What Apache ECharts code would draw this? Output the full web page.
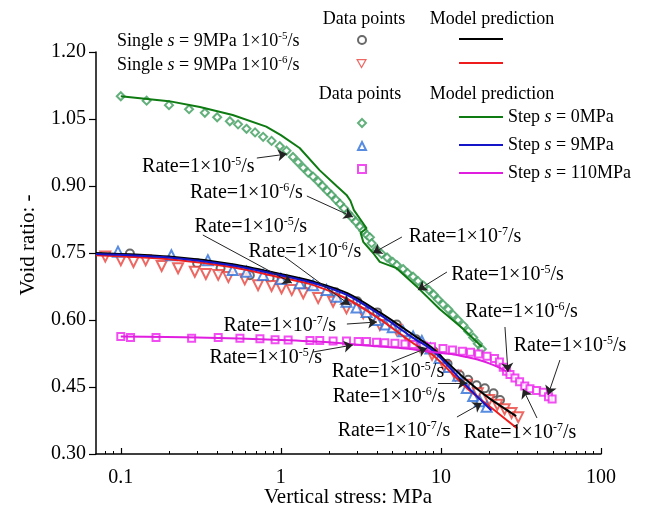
<!DOCTYPE html>
<html>
<head>
<meta charset="utf-8">
<script src="https://cdn.jsdelivr.net/npm/echarts@6/dist/echarts.min.js"></script>
<style>
  html, body { margin: 0; padding: 0; background: #fff; }
  #chart { width: 648px; height: 515px; }
</style>
</head>
<body>
<div id="chart"></div>
<script>
// stress (MPa) vs void ratio
const xMajorTicks = [0.1, 1, 10, 100];
const xMinorTicks = [0.08, 0.09, 0.2, 0.3, 0.4, 0.5, 0.6, 0.7, 0.8, 0.9,
  2, 3, 4, 5, 6, 7, 8, 9, 20, 30, 40, 50, 60, 70, 80, 90];

const singleRate5Points = [[0.114,0.749],[0.30,0.727],[0.42,0.716],[0.64,0.700],[0.85,0.694],[1.01,0.690],
  [1.5,0.678],[2.2,0.662],[3.0,0.642],[4.0,0.617],[5.3,0.590],[7.0,0.557],[9.0,0.530],[11.0,0.502],
  [13.1,0.477],[14.8,0.466],[16.7,0.454],[18.8,0.447],[21.3,0.436],[23.4,0.421]];
const singleRate6Points = [[0.08,0.742],[0.1,0.734],[0.12,0.730],[0.143,0.734],[0.18,0.721],[0.228,0.716],
  [0.29,0.708],[0.34,0.703],[0.406,0.701],[0.47,0.696],[0.595,0.691],[0.72,0.678],[0.875,0.676],[1.01,0.671],
  [1.17,0.667],[1.38,0.660],[1.71,0.649],[2.12,0.641],[2.57,0.626],[3.27,0.615],[4.15,0.589],[5.28,0.578],
  [6.24,0.555],[7.4,0.540],[8.8,0.522],[10.5,0.497],[12.3,0.476],[14.5,0.455],[17,0.436],[20,0.421],
  [22.5,0.410],[25,0.400],[27.6,0.392],[30.4,0.382]];
const step0Points = [[0.1,1.101],[0.145,1.091],[0.2,1.081],[0.267,1.072],[0.335,1.064],[0.40,1.054],[0.48,1.045],
  [0.54,1.038],[0.61,1.028],[0.69,1.020],[0.775,1.010],[0.875,1.001],[0.985,0.989],[1.085,0.979],[1.19,0.965],
  [1.28,0.953],[1.38,0.941],[1.48,0.930],[1.59,0.921],[1.71,0.910],[1.82,0.900],[1.95,0.889],[2.07,0.880],
  [2.21,0.869],[2.34,0.860],[2.48,0.850],[2.63,0.839],[2.77,0.830],[2.94,0.820],[3.12,0.809],[3.27,0.800],
  [3.46,0.790],[3.6,0.785],[3.69,0.772],[3.96,0.758],[4.26,0.748],[4.61,0.740],[5.0,0.730],[5.3,0.723],
  [5.8,0.714],[6.2,0.705],[6.7,0.697],[7.2,0.687],[7.8,0.677],[8.4,0.667],[9.0,0.657],[9.6,0.646],[10.3,0.635],
  [11.1,0.624],[11.9,0.612],[12.8,0.600],[13.8,0.588],[14.8,0.575],[15.9,0.561],[17.0,0.547],[18.0,0.535]];
const step9Points = [[0.096,0.753],[0.207,0.745],[0.35,0.734],[0.50,0.712],[0.61,0.708],[0.775,0.701],[1.0,0.692],
  [1.31,0.682],[1.59,0.678],[1.93,0.667],[2.23,0.652],[2.57,0.641],[2.97,0.628],[3.43,0.618],[3.96,0.600],
  [4.5,0.590],[5.0,0.584],[5.8,0.575],[6.7,0.563],[7.6,0.553],[8.6,0.536],[9.8,0.515],[11.2,0.495],[12.8,0.475],
  [14.5,0.448],[15.9,0.430],[17.5,0.418],[19.3,0.406]];
const step110Points = [[0.1,0.563],[0.115,0.561],[0.166,0.561],[0.277,0.559],[0.406,0.561],[0.555,0.559],
  [0.74,0.558],[0.92,0.556],[1.11,0.555],[1.52,0.554],[1.75,0.554],[2.12,0.553],[2.57,0.553],[3.04,0.552],
  [3.43,0.552],[3.96,0.550],[4.46,0.549],[5.16,0.548],[5.96,0.546],[6.7,0.545],[7.76,0.542],[8.73,0.540],
  [10.3,0.536],[11.8,0.533],[13.6,0.530],[15.3,0.528],[17.2,0.524],[19.4,0.519],[21.6,0.514],[23.2,0.506],
  [24.5,0.494],[25.7,0.485],[27,0.478],[29,0.470],[31,0.462],[33.4,0.452],[36,0.446],[39.6,0.442],[43.6,0.438],
  [47,0.428],[49.5,0.423]];

const singleRate5Model = [[0.07,0.750],[0.2,0.742],[0.5,0.725],[1.0,0.703],[1.6,0.686],[2.6,0.660],[4.15,0.617],
  [6.7,0.567],[9.0,0.535],[10.8,0.507],[14.5,0.465],[20,0.425],[29.5,0.385]];
const singleRate6Model = [[0.07,0.745],[0.2,0.736],[0.5,0.718],[1.0,0.695],[1.6,0.678],[2.6,0.647],[4.15,0.602],
  [6.7,0.548],[9.0,0.520],[14.5,0.448],[23.4,0.388],[30,0.357]];
const step0Model = [[0.1,1.101],[0.2,1.090],[0.312,1.077],[0.5,1.059],[0.81,1.033],[1.0,1.014],[1.31,0.985],
  [1.75,0.935],[2.23,0.900],[2.57,0.880],[2.72,0.867],[2.86,0.846],[3.27,0.816],[3.43,0.805],[3.15,0.795],
  [3.27,0.775],[3.77,0.750],[4.15,0.730],[5.28,0.716],[7.2,0.672],[9.85,0.624],[13.8,0.580],[18.0,0.540]];
const step9Model = [[0.07,0.748],[0.2,0.740],[0.5,0.722],[1.0,0.700],[1.6,0.683],[2.6,0.656],[4.15,0.612],
  [6.7,0.560],[9.0,0.530],[14.5,0.452],[20.6,0.398]];
const step110Model = [[0.1,0.563],[0.3,0.561],[1.0,0.555],[2.0,0.550],[4.0,0.541],[6.0,0.536],[9.0,0.528],
  [12,0.523],[14.5,0.517],[17.5,0.510],[20,0.503],[23,0.494],[25.5,0.485]];

// rate annotations: exponent, label centre, arrow start, arrow tip
const rateExps = ['-5','-6','-7','-5','-6','-5','-7','-5','-6','-7','-5','-5','-6','-7'];
const rateLabelAt = [[0.305,0.9425],[0.609,0.8843],[14.13,0.7858],[26.04,0.7007],[31.85,0.6179],[64.0,0.5418],
  [31.17,0.3470],[0.649,0.8082],[1.413,0.7522],[0.986,0.5866],[0.806,0.5149],[4.665,0.4836],[4.732,0.4276],[5.085,0.3515]];
const rateArrowFrom = [[0.708,0.9626],[1.454,0.8776],[5.705,0.7858],[10.90,0.7074],[25.12,0.5843],[55.4,0.5104],
  [39.81,0.3806],[0.3255,0.7903],[1.059,0.7410],[2.585,0.5910],[1.585,0.5283],[4.941,0.5060],[9.577,0.4589],[12.59,0.3828]];
const rateArrowTo = [[1.090,0.9715],[2.818,0.8306],[3.758,0.7500],[7.18,0.6671],[26.23,0.4836],[46.65,0.4321],
  [32.55,0.4455],[1.171,0.6828],[2.700,0.6336],[3.981,0.5955],[2.818,0.5440],[8.178,0.5373],[14.54,0.4589],[18.04,0.4142]];

const FONT = "'Liberation Serif', 'Times New Roman', serif";
const rich = {
  n: { fontFamily: FONT, fontSize: 18, color: '#000', lineHeight: 20 },
  i: { fontFamily: FONT, fontSize: 18, color: '#000', fontStyle: 'italic', lineHeight: 20 },
  sup: { fontFamily: FONT, fontSize: 11, color: '#000', verticalAlign: 'top', lineHeight: 11 }
};
const rateRich = {
  n: { fontFamily: FONT, fontSize: 20, color: '#000', lineHeight: 22 },
  sup: { fontFamily: FONT, fontSize: 12, color: '#000', verticalAlign: 'top', lineHeight: 12 }
};
const stepNames = { 'Step 0 model': '0MPa', 'Step 9 model': '9MPa', 'Step 110 model': '110MPa' };
const RED = '#e8423c';

const chart = echarts.init(document.getElementById('chart'));

function dataSeries(name, pts, symbol, color, size, rotate) {
  return {
    name, type: 'scatter', data: pts, symbol, symbolSize: size, symbolRotate: rotate || 0,
    itemStyle: { color: color, borderWidth: 1.2 }, z: 2
  };
}
function modelSeries(name, pts, color, smooth) {
  return {
    name, type: 'line', data: pts, symbol: 'none', smooth: smooth,
    lineStyle: { color: color, width: 2 }, itemStyle: { color: color }, z: 3
  };
}
// one-entry legend without text, placed by the centre of its icon
function iconLegend(item, cx, cy, w, h, extra) {
  return Object.assign({
    data: [item], orient: 'vertical', left: cx - w / 2, top: cy - h / 2,
    itemWidth: w, itemHeight: h, padding: 0, selectedMode: false,
    formatter: () => '', textStyle: { fontSize: 1, lineHeight: 1 }
  }, extra || {});
}

const option = {
  animation: false,
  backgroundColor: '#fff',
  grid: { left: 96, right: 47, top: 52, bottom: 61 },
  xAxis: [{
    type: 'log', logBase: 10, min: 0.07, max: 100,
    axisLine: { lineStyle: { color: '#000', width: 1.5 } },
    axisTick: { inside: true, length: 6, customValues: xMajorTicks, lineStyle: { color: '#000', width: 1.2 } },
    axisLabel: { customValues: xMajorTicks, color: '#000', fontFamily: FONT, fontSize: 20, margin: 14,
      formatter: v => String(+(+v).toPrecision(3)) },
    splitLine: { show: false }
  }, {
    type: 'log', logBase: 10, min: 0.07, max: 100, position: 'bottom',
    axisLine: { show: false },
    axisTick: { inside: true, length: 3, customValues: xMinorTicks, lineStyle: { color: '#000', width: 1 } },
    axisLabel: { show: false },
    splitLine: { show: false }
  }],
  yAxis: {
    type: 'value', min: 0.3, max: 1.2, interval: 0.15,
    axisLine: { show: true, lineStyle: { color: '#000', width: 1.5 } },
    axisTick: { show: true, inside: false, length: 7, lineStyle: { color: '#000', width: 1.2 } },
    axisLabel: { color: '#000', fontFamily: FONT, fontSize: 20, margin: 10, formatter: v => v.toFixed(2) },
    splitLine: { show: false }
  },
  legend: [
    iconLegend('Single 1e-5 data', 361, 39, 8, 8),
    iconLegend({ name: 'Single 1e-6 data', icon: 'path://M0,0L10,0L5,9Z' }, 361, 63, 9, 8,
      { itemStyle: { color: '#fff', borderColor: RED, borderWidth: 1.2 } }),
    iconLegend({ name: 'Single 1e-5 model', icon: 'rect' }, 481, 39, 44, 2),
    iconLegend({ name: 'Single 1e-6 model', icon: 'rect' }, 481, 63, 44, 2),
    {
      data: ['Step 0 data', 'Step 9 data', 'Step 110 data'], orient: 'vertical', left: 357, top: 118,
      itemWidth: 8, itemHeight: 8, itemGap: 13, padding: 0, selectedMode: false,
      formatter: () => '', textStyle: { fontSize: 1, lineHeight: 10 }
    }, {
      data: ['Step 0 model', 'Step 9 model', 'Step 110 model'], orient: 'vertical', left: 459, top: 107,
      icon: 'rect', itemWidth: 44, itemHeight: 2, itemGap: 8, padding: 0, selectedMode: false,
      formatter: name => '{n|Step }{i|s}{n| = ' + stepNames[name] + '}',
      textStyle: { rich: rich, lineHeight: 20 }
    }
  ],
  graphic: [
    { type: 'text', x: 364, y: 19, style: { text: 'Data points', font: '18px ' + FONT, fill: '#000', align: 'center', verticalAlign: 'middle' } },
    { type: 'text', x: 492, y: 19, style: { text: 'Model prediction', font: '18px ' + FONT, fill: '#000', align: 'center', verticalAlign: 'middle' } },
    { type: 'text', x: 360, y: 94, style: { text: 'Data points', font: '18px ' + FONT, fill: '#000', align: 'center', verticalAlign: 'middle' } },
    { type: 'text', x: 492, y: 94, style: { text: 'Model prediction', font: '18px ' + FONT, fill: '#000', align: 'center', verticalAlign: 'middle' } },
    { type: 'text', x: 117, y: 41, style: { text: '{n|Single }{i|s}{n| = 9MPa 1×10}{sup|-5}{n|/s}', rich: rich, verticalAlign: 'middle' } },
    { type: 'text', x: 117, y: 65, style: { text: '{n|Single }{i|s}{n| = 9MPa 1×10}{sup|-6}{n|/s}', rich: rich, verticalAlign: 'middle' } },
    { type: 'text', x: 348, y: 497, style: { text: 'Vertical stress: MPa', font: '21px ' + FONT, fill: '#000', align: 'center', verticalAlign: 'middle' } },
    { type: 'text', x: 28, y: 245, rotation: Math.PI / 2, style: { text: 'Void ratio: -', font: '21px ' + FONT, fill: '#000', align: 'center', verticalAlign: 'middle' } }
  ],
  series: [
    dataSeries('Single 1e-5 data', singleRate5Points, 'emptyCircle', '#444', 8),
    dataSeries('Single 1e-6 data', singleRate6Points, 'emptyTriangle', RED, 10, 180),
    dataSeries('Step 0 data', step0Points, 'emptyDiamond', '#3d9c5c', 8),
    dataSeries('Step 9 data', step9Points, 'emptyTriangle', '#2e6fd8', 10),
    dataSeries('Step 110 data', step110Points, 'emptyRect', '#ee22ee', 7),
    modelSeries('Single 1e-5 model', singleRate5Model, '#000', 0.3),
    modelSeries('Single 1e-6 model', singleRate6Model, '#ee1c1c', 0.3),
    modelSeries('Step 0 model', step0Model, '#0e7a12', false),
    modelSeries('Step 9 model', step9Model, '#1414c8', 0.3),
    modelSeries('Step 110 model', step110Model, '#e01ee0', 0.3),
    {
      name: 'rates', type: 'line', data: [], silent: true, z: 5,
      markLine: {
        silent: true, symbol: ['none', 'arrow'], symbolSize: 9, animation: false,
        lineStyle: { color: '#222', width: 1, type: 'solid' },
        label: { show: false },
        data: rateArrowFrom.map((p, k) => [{ coord: p }, { coord: rateArrowTo[k] }])
      },
      markPoint: {
        silent: true, symbol: 'circle', symbolSize: 1, animation: false,
        itemStyle: { color: 'rgba(0,0,0,0)' },
        label: { show: true, position: 'inside', rich: rateRich,
          formatter: p => '{n|Rate=1×10}{sup|' + p.name + '}{n|/s}' },
        data: rateLabelAt.map((p, k) => ({ name: rateExps[k], coord: p }))
      }
    }
  ]
};
chart.setOption(option);
</script>
</body>
</html>
